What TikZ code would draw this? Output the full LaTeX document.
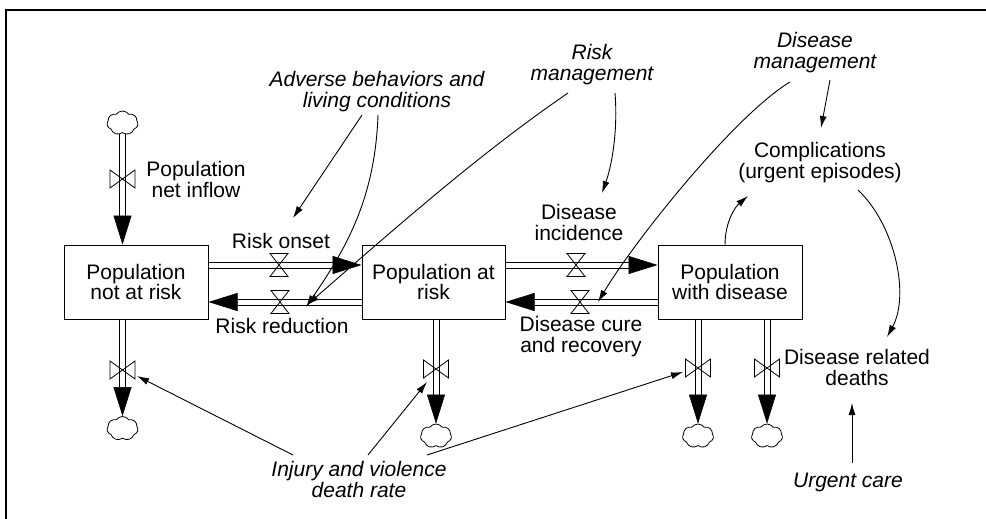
\documentclass[tikz,border=0pt]{standalone}
\usepackage{fontspec}
\setmainfont{Liberation Sans}
\usetikzlibrary{arrows.meta,shapes.symbols,calc}
\pgfdeclarelayer{bg}
\pgfsetlayers{bg,main}
\begin{document}
\begin{tikzpicture}[x=1pt,y=-1pt,
  every node/.style={font=\fontsize{21}{20.5}\selectfont, inner sep=0pt},
  lab/.style={align=center},
  ilab/.style={align=center, font=\fontsize{21}{20.5}\selectfont\itshape},
  stock/.style={draw, line width=1pt, fill=white, minimum width=144pt, minimum height=74pt, align=center},
  pipe/.style={double, double distance=5pt, line width=1pt},
  flowhead/.style={-{Triangle[length=29pt,width=18pt]}, line width=0.5pt},
  conn/.style={line width=0.9pt, -{Latex[length=12pt,width=7pt]}},
  sink/.style={cloud, draw, cloud puffs=7, cloud puff arc=110, aspect=1.3, minimum width=31pt, minimum height=24pt, fill=white, line width=0.8pt},
  hvalve/.pic={\draw[line width=0.8pt] (-9,-11.5) -- (9,-11.5) -- (-9,11.5) -- (9,11.5) -- cycle;},
  vvalve/.pic={\draw[line width=0.8pt] (-12.5,-9) -- (-12.5,9) -- (12.5,-9) -- (12.5,9) -- cycle;}
]
\useasboundingbox (0,0) rectangle (986,519);
\draw[line width=1.6pt] (6,530) -- (6,10) -- (995,10);

% stocks
\node[stock] (b1) at (136,282) {Population\\not at risk};
\node[stock, minimum width=143pt] (b2) at (433.5,282) {Population at\\risk};
\node[stock] (b3) at (730,282) {Population\\with disease};

% clouds
\node[sink] (c0) at (122.5,123) {};
\node[sink] (c1) at (122.5,428.5) {};
\node[sink] (c2) at (436,436) {};
\node[sink] (c3) at (698,436) {};
\node[sink] (c4) at (767,436) {};

% helper coordinates
\coordinate (yA) at (0,265);
\coordinate (yB) at (0,302);
\coordinate (x1) at (122.5,0);
\coordinate (x2) at (436,0);
\coordinate (x3) at (698,0);
\coordinate (x4) at (767,0);

\begin{pgfonlayer}{bg}
% inflow
\draw[pipe] (c0.south) -- ($(b1.north -| x1)+(0,-29)$);
% risk onset / reduction
\draw[pipe] (b1.east |- yA) -- ($(b2.west |- yA)+(-29,0)$);
\draw[pipe] (b2.west |- yB) -- ($(b1.east |- yB)+(29,0)$);
% disease incidence / cure
\draw[pipe] (b2.east |- yA) -- ($(b3.west |- yA)+(-29,0)$);
\draw[pipe] (b3.west |- yB) -- ($(b2.east |- yB)+(29,0)$);
% outflows
\draw[pipe] (b1.south -| x1) -- ($(c1.north)+(0,-29)$);
\draw[pipe] (b2.south -| x2) -- ($(c2.north)+(0,-29)$);
\draw[pipe] (b3.south -| x3) -- ($(c3.north)+(0,-29)$);
\draw[pipe] (b3.south -| x4) -- ($(c4.north)+(0,-29)$);
\end{pgfonlayer}

% flow heads
\draw[flowhead] ($(b1.north -| x1)+(0,-29)$) -- (b1.north -| x1);
\draw[flowhead] ($(b2.west |- yA)+(-29,0)$) -- (b2.west |- yA);
\draw[flowhead] ($(b1.east |- yB)+(29,0)$) -- (b1.east |- yB);
\draw[flowhead] ($(b3.west |- yA)+(-29,0)$) -- (b3.west |- yA);
\draw[flowhead] ($(b2.east |- yB)+(29,0)$) -- (b2.east |- yB);
\draw[flowhead] ($(c1.north)+(0,-29)$) -- (c1.north);
\draw[flowhead] ($(c2.north)+(0,-29)$) -- (c2.north);
\draw[flowhead] ($(c3.north)+(0,-29)$) -- (c3.north);
\draw[flowhead] ($(c4.north)+(0,-29)$) -- (c4.north);

% valves
\pic at (122.5,179) {vvalve};
\pic at (279,265) {hvalve};
\pic at (280,302) {hvalve};
\pic at (576,265) {hvalve};
\pic at (580,302) {hvalve};
\pic at (122.5,370) {vvalve};
\pic at (436,369) {vvalve};
\pic at (698,368) {vvalve};
\pic at (767,368) {vvalve};

% labels
\node[ilab] (adv) at (377,91.5) {Adverse behaviors and\\living conditions};
\node[ilab] (rm) at (592,64.5) {Risk\\management};
\node[ilab] (dm) at (815,52.5) {Disease\\management};
\node[lab] (comp) at (820,162.6) {Complications\\(urgent episodes)};
\node[lab] (pni) at (196,179.5) {Population\\net inflow};
\node[anchor=base] (ro) at (281,248) {Risk onset};
\node[anchor=base] (rr) at (282,333) {Risk reduction};
\node[lab] (di) at (579,222.5) {Disease\\incidence};
\node[lab] (dc) at (581,336.5) {Disease cure\\and recovery};
\node[lab] (drd) at (857,367.5) {Disease related\\deaths};
\node[ilab, anchor=base] (uc) at (848,487) {Urgent care};
\node[ilab] (inj) at (359,479.5) {Injury and violence\\death rate};

% connector end points
\coordinate (a1s) at (362,115); \coordinate (a1e) at (293,218);
\coordinate (a2s) at (378,115); \coordinate (a2e) at (306,307);
\coordinate (a3s) at (568,93);  \coordinate (a3e) at (307,305);
\coordinate (a4s) at (615,93);  \coordinate (a4e) at (602,193);
\coordinate (a5s) at (790,82);  \coordinate (a5e) at (598,302);
\coordinate (a6s) at (725,245); \coordinate (a6e) at (748,196);
\coordinate (a7s) at (830,80);  \coordinate (a7e) at (821,128);
\coordinate (a8s) at (858,190); \coordinate (a8e) at (887,337);
\coordinate (a9s) at (852,463); \coordinate (a9e) at (852,403);
\coordinate (a10s) at (293,455); \coordinate (a10e) at (137,376);
\coordinate (a11s) at (368,455); \coordinate (a11e) at (427,382);
\coordinate (a12s) at (427,455); \coordinate (a12e) at (683,372);

% connectors
\draw[conn] (a1s) -- (a1e);
\draw[conn] (a2s) .. controls (375,200) and (345,250) .. (a2e);
\draw[conn] (a3s) .. controls (485,150) and (410,215) .. (a3e);
\draw[conn] (a4s) .. controls (618,130) and (612,165) .. (a4e);
\draw[conn] (a5s) .. controls (735,115) and (635,240) .. (a5e);
\draw[conn] (a6s) .. controls (725,222) and (735,207) .. (a6e);
\draw[conn] (a7s) -- (a7e);
\draw[conn] (a8s) .. controls (895,225) and (910,295) .. (a8e);
\draw[conn] (a9s) -- (a9e);
\draw[conn] (a10s) -- (a10e);
\draw[conn] (a11s) -- (a11e);
\draw[conn] (a12s) -- (a12e);
\end{tikzpicture}
\end{document}
